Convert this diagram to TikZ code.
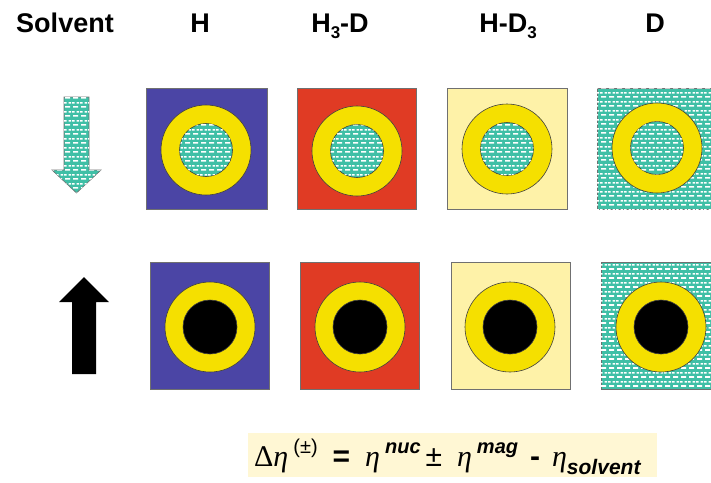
\documentclass[tikz,border=0pt]{standalone}
\usepackage{fontspec}
\setmainfont{Liberation Sans}
\newfontfamily\grk{Liberation Serif}
\usetikzlibrary{patterns}
\definecolor{cblue}{HTML}{4B45A5}
\definecolor{cred}{HTML}{E03B24}
\definecolor{cpale}{HTML}{FEF2A8}
\definecolor{cyel}{HTML}{F5E000}
\definecolor{cteal}{HTML}{3FBFA6}
\definecolor{ceqbg}{HTML}{FFF7D4}
\definecolor{cedge}{HTML}{707070}
\pgfdeclarepatternformonly{brickw}{\pgfpointorigin}{\pgfpoint{8pt}{8.6pt}}{\pgfpoint{8pt}{8.6pt}}{%
  \pgfpathrectangle{\pgfpoint{1.2pt}{1.3pt}}{\pgfpoint{5.6pt}{1.6pt}}%
  \pgfpathrectangle{\pgfpoint{5.2pt}{5.6pt}}{\pgfpoint{2.8pt}{1.6pt}}%
  \pgfpathrectangle{\pgfpoint{0pt}{5.6pt}}{\pgfpoint{2.8pt}{1.6pt}}%
  \pgfusepath{fill}%
}
\newcommand{\eqsup}[1]{\raisebox{0.42em}{\fontsize{20}{20}\selectfont #1}}
\newcommand{\eqsub}[1]{\raisebox{-0.28em}{\fontsize{21}{21}\selectfont #1}}
\newcommand{\eeta}{{\grk\itshape η}}
\begin{document}
\begin{tikzpicture}[x=1pt,y=-1pt,
  head/.style={anchor=base, inner sep=0pt, font=\bfseries\fontsize{27}{30}\selectfont},
  boxline/.style={draw=cedge, line width=0.8pt},
  ringline/.style={draw=black!75, line width=0.6pt},
  bricked/.style={fill=cteal, postaction={pattern=brickw, pattern color=white}}]
\useasboundingbox (0,0) rectangle (711,482);
% headings
\node[head] (hsolv) at (65,32) {Solvent};
\node[head] (hh) at (200,32) {H};
\node[head] (hhd) at (340,32) {H\raisebox{-0.25em}{\fontsize{17}{17}\selectfont 3}-D};
\node[head] (hdh) at (508,32) {H-D\raisebox{-0.25em}{\fontsize{17}{17}\selectfont 3}};
\node[head] (hd) at (655,32) {D};
% top row boxes
\path[boxline, fill=cblue] (146,88) rectangle (267,209);
\path[boxline, fill=cred] (297,88) rectangle (416,209);
\path[boxline, fill=cpale] (447,88) rectangle (567,209);
\path[boxline, bricked] (597,88) rectangle (714,209);
% bottom row boxes
\path[boxline, fill=cblue] (150,262) rectangle (269,389);
\path[boxline, fill=cred] (300,262) rectangle (419,389);
\path[boxline, fill=cpale] (451,262) rectangle (570,389);
\path[boxline, bricked] (601,262) rectangle (714,389);
% top rings
\foreach \cx/\cy in {206/150, 357/151, 507/149, 657/148}{
  \path[ringline, fill=cyel] (\cx,\cy) circle[radius=45];
  \path[ringline, bricked] (\cx,\cy) circle[radius=26.5];
}
% bottom rings
\foreach \cx/\cy in {210/327, 360/327, 510/327, 661/327}{
  \path[ringline, fill=cyel] (\cx,\cy) circle[radius=45];
  \path[ringline, fill=black] (\cx,\cy) circle[radius=27];
}
% arrows
\path[draw=cedge, line width=0.6pt, bricked] (64,97) -- (89,97) -- (89,170) -- (101,170) -- (76.5,193) -- (52,170) -- (64,170) -- cycle;
\fill[black] (84,277) -- (109,302) -- (96,302) -- (96,374) -- (72,374) -- (72,302) -- (59,302) -- cycle;
% equation
\fill[ceqbg] (248,433) rectangle (657,477);
\node[anchor=base west, inner sep=0pt, font=\fontsize{30}{32}\selectfont] (eq) at (254,466)
 {{\grk Δ}\eeta\,\eqsup{(±)}\hspace{0.5em}\textbf{=}\hspace{0.5em}\eeta\,\eqsup{\bfseries\itshape nuc}\,±\hspace{0.5em}\eeta\,\eqsup{\bfseries\itshape mag}\hspace{0.4em}\textbf{-}\hspace{0.4em}\eeta\eqsub{\bfseries\itshape solvent}};
\end{tikzpicture}
\end{document}
